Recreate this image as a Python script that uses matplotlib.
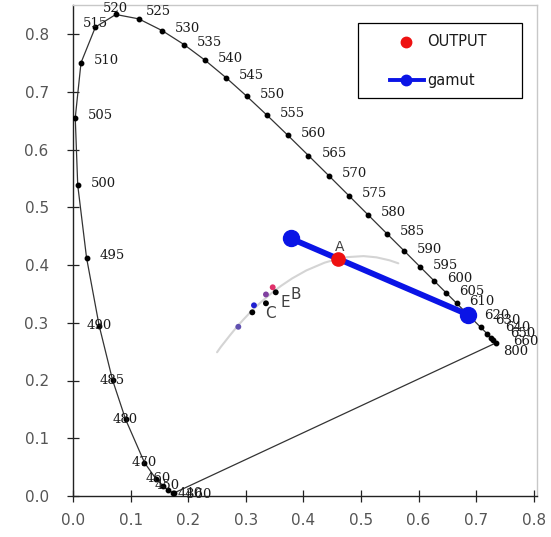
import matplotlib
matplotlib.use("Agg")
import matplotlib.pyplot as plt
from matplotlib.patches import Rectangle
from matplotlib.lines import Line2D

# Spectral locus (CIE 1931), wavelengths in nm
wavelengths = [360, 380, 440, 450, 460, 470, 480, 485, 490, 495, 500, 505, 510, 515,
               520, 525, 530, 535, 540, 545, 550, 555, 560, 565, 570, 575, 580, 585,
               590, 595, 600, 605, 610, 620, 630, 640, 650, 660, 800]
locus_x = [0.1756, 0.1741, 0.1644, 0.1566, 0.1440, 0.1241, 0.0913, 0.0687, 0.0454, 0.0235,
           0.0082, 0.0039, 0.0139, 0.0389, 0.0743, 0.1142, 0.1547, 0.1929, 0.2296, 0.2658,
           0.3016, 0.3373, 0.3731, 0.4087, 0.4441, 0.4788, 0.5125, 0.5448, 0.5752, 0.6029,
           0.6270, 0.6482, 0.6658, 0.6915, 0.7079, 0.7190, 0.7260, 0.7300, 0.7347]
locus_y = [0.0053, 0.0050, 0.0109, 0.0177, 0.0297, 0.0578, 0.1327, 0.2007, 0.2950, 0.4127,
           0.5384, 0.6548, 0.7502, 0.8120, 0.8338, 0.8262, 0.8059, 0.7816, 0.7543, 0.7243,
           0.6923, 0.6589, 0.6245, 0.5896, 0.5547, 0.5202, 0.4866, 0.4544, 0.4242, 0.3965,
           0.3725, 0.3514, 0.3340, 0.3083, 0.2920, 0.2809, 0.2740, 0.2700, 0.2653]
locus_labels = ["360", "380", "440", "450", "460", "470", "480", "485", "490", "495", "500",
                "505", "510", "515", "520", "525", "530", "535", "540", "545", "550", "555",
                "560", "565", "570", "575", "580", "585", "590", "595", "600", "605", "610",
                "620", "630", "640", "650", "660", "800"]

# Planckian (blackbody) locus, light grey curve
planck_x = [0.5648, 0.5496, 0.5267, 0.5045, 0.4770, 0.4599, 0.4369, 0.4053, 0.3805, 0.3608,
            0.3451, 0.3325, 0.3221, 0.3135, 0.3064, 0.2952, 0.2869, 0.2807, 0.2722, 0.2637,
            0.2565, 0.2501]
planck_y = [0.4029, 0.4081, 0.4133, 0.4154, 0.4137, 0.4106, 0.4041, 0.3907, 0.3768, 0.3636,
            0.3516, 0.3411, 0.3318, 0.3237, 0.3166, 0.3048, 0.2956, 0.2883, 0.2779, 0.2671,
            0.2580, 0.2489]

# Measured sample points
sample_x = [0.3467, 0.3520, 0.3350, 0.3350, 0.3142, 0.3113, 0.2870]
sample_y = [0.3614, 0.3527, 0.3490, 0.3337, 0.3302, 0.3180, 0.2930]
sample_colors = ["#e0306a", "black", "#8040a0", "black", "#2020d0", "black", "#6050b0"]

# Named labels (B, E, C)
label_names = ["B", "E", "C"]
label_x = [0.3520, 0.3350, 0.3350]
label_y = [0.3527, 0.3337, 0.3337]

# OUTPUT point and gamut
output_x = [0.4606]
output_y = [0.4100]
output_label = "A"
gamut_x = [0.378, 0.686]
gamut_y = [0.446, 0.314]

legend_names = ["OUTPUT", "gamut"]

fig = plt.figure(figsize=(5.51, 5.37), dpi=100)
L, R, T, B = 73, 537, 5, 496
W, H = 551, 537
ax = fig.add_axes([L / W, (H - B) / H, (R - L) / W, (B - T) / H])

xmax = (R - L) / 576.0
ymax = (B - T) / 577.5
ax.set_xlim(0, xmax)
ax.set_ylim(0, ymax)

# Planckian locus
ax.plot(planck_x, planck_y, color="#d4d4d4", lw=1.5, zorder=1, solid_capstyle="round")

# spectral locus and line of purples
lx = list(locus_x) + [locus_x[0]]
ly = list(locus_y) + [locus_y[0]]
ax.plot(lx, ly, color="#333333", lw=0.9, zorder=2)
ax.plot(locus_x, locus_y, ls="none", marker="o", ms=3.2, color="black", zorder=3)

special = {
    "515": (0, 4, "center"), "520": (0, 6, "center"), "525": (7, 7, "left"),
    "630": (14, 7, "left"), "640": (18, 6, "left"), "650": (19, 4, "left"),
    "660": (20, -1, "left"), "800": (7, -9, "left"),
    "440": (10, -4, "left"), "360": (12, -2, "left"), "380": (0, 0, "none"),
    "450": (4, 0, "center"), "460": (2, 0, "center"),
}
for x, y, lab, w in zip(locus_x, locus_y, locus_labels, wavelengths):
    if lab in special:
        dx, dy, ha = special[lab]
    elif w <= 490:
        dx, dy, ha = 0, 0, "center"
    else:
        dx, dy, ha = 13, 2, "left"
    if ha == "none":
        continue
    ax.annotate(lab, (x, y), xytext=(dx, dy), textcoords="offset pixels",
                ha=ha, va="center", fontsize=9.5, family="DejaVu Serif",
                color="#1a1a1a", zorder=4)

# sample points
ax.scatter(sample_x, sample_y, s=18, c=sample_colors, zorder=5, linewidths=0)
name_offsets = {"B": (15, -2), "E": (15, 1), "C": (-1, -10)}
for n, x, y in zip(label_names, label_x, label_y):
    dx, dy = name_offsets[n]
    ax.annotate(n, (x, y), xytext=(dx, dy), textcoords="offset pixels",
                ha="left", va="center", fontsize=11, color="#404040", zorder=6)

# gamut
ax.plot(gamut_x, gamut_y, color="#0a14e6", lw=4.2, marker="o",
        ms=11.5, zorder=7)
ax.plot(output_x, output_y, ls="none", marker="o", ms=9.5,
        color="#ee1111", zorder=8)
ax.annotate(output_label, (output_x[0], output_y[0]), xytext=(1, 12),
            textcoords="offset pixels", ha="center", va="center",
            fontsize=10, color="#404040", zorder=9)

# legend box drawn in axes-fraction coordinates
def ax_frac(px, py):
    return (px - L) / (R - L), (B - py) / (B - T)

x0, y0 = ax_frac(358, 98)
x1, y1 = ax_frac(522, 23)
ax.add_patch(Rectangle((x0, y0), x1 - x0, y1 - y0, transform=ax.transAxes,
                       facecolor="white", edgecolor="black", lw=0.9, zorder=10))
mx, my1 = ax_frac(406, 42)
_, my2 = ax_frac(406, 80)
hx0, _ = ax_frac(390, 80)
hx1, _ = ax_frac(424, 80)
tx, _ = ax_frac(427, 42)
ax.add_line(Line2D([mx], [my1], transform=ax.transAxes, marker="o", ms=7.5,
                   color="#ee1111", ls="none", zorder=11))
ax.add_line(Line2D([hx0, hx1], [my2, my2], transform=ax.transAxes, color="#0a14e6",
                   lw=2.8, zorder=11))
ax.add_line(Line2D([mx], [my2], transform=ax.transAxes, marker="o", ms=7.5,
                   color="#0a14e6", ls="none", zorder=12))
ax.text(tx, my1, legend_names[0], transform=ax.transAxes, ha="left", va="center",
        fontsize=10.5, color="#1a1a1a", zorder=12)
ax.text(tx, my2, legend_names[1], transform=ax.transAxes, ha="left", va="center",
        fontsize=10.5, color="#1a1a1a", zorder=12)

ticks = [0.0, 0.1, 0.2, 0.3, 0.4, 0.5, 0.6, 0.7, 0.8]
ax.set_xticks(ticks)
ax.set_yticks(ticks)
ax.set_xticklabels([f"{t:.1f}" for t in ticks])
ax.set_yticklabels([f"{t:.1f}" for t in ticks])
ax.tick_params(direction="inout", length=9, width=0.9, color="#222222",
               labelsize=11, labelcolor="#555555")
ax.tick_params(axis="x", pad=8)
ax.tick_params(axis="y", pad=13)
for s in ["left", "bottom"]:
    ax.spines[s].set_color("#222222")
    ax.spines[s].set_linewidth(1.0)
for s in ["top", "right"]:
    ax.spines[s].set_color("#c8c8c8")
    ax.spines[s].set_linewidth(1.0)

fig.savefig("out.png", dpi=100)
